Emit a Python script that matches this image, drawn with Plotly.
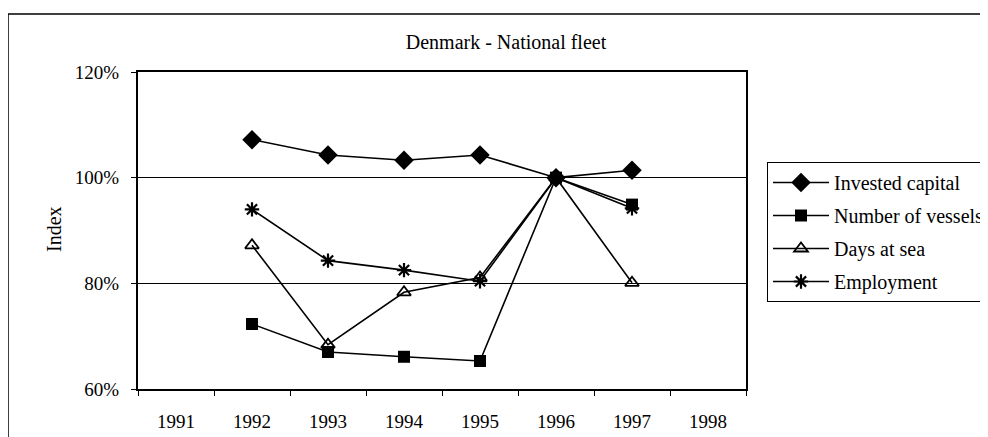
import plotly.graph_objects as go

years = ["1991", "1992", "1993", "1994", "1995", "1996", "1997", "1998"]
invested_capital = [None, 1.072, 1.043, 1.033, 1.043, 1.000, 1.014, None]
number_of_vessels = [None, 0.723, 0.670, 0.661, 0.653, 1.000, 0.949, None]
days_at_sea = [None, 0.872, 0.684, 0.783, 0.811, 1.000, 0.801, None]
employment = [None, 0.940, 0.843, 0.825, 0.804, 1.000, 0.942, None]
y_ticks = [0.6, 0.8, 1.0, 1.2]

FONT = "Liberation Serif"
series = [
    ("Invested capital", invested_capital, "diamond", 15, 0),
    ("Number of vessels", number_of_vessels, "square", 12, 0),
    ("Days at sea", days_at_sea, "triangle-up-open", 12, 1.8),
    ("Employment", employment, "asterisk-open", 12, 2.2),
]

fig = go.Figure()
for i, (name, vals, sym, size, lw) in enumerate(series):
    fig.add_trace(go.Scatter(
        x=years, y=vals, name=name, mode="lines+markers",
        line=dict(color="black", width=1.6),
        marker=dict(symbol=sym, size=size, color="black",
                    line=dict(color="black", width=lw)),
        legendgroup=f"g{i}", connectgaps=False,
    ))

# page offsets the plot div by the body margin
OFF = 8
W, H = 988, 437
L, R, T, B = 138 - OFF, 746 - OFF, 72 - OFF, 389 - OFF
ML, MR = 0, 0
pw = W - ML - MR
ph = B - T


def px(x_win):
    return (x_win - OFF - ML) / pw


def py(y_win):
    return (B - (y_win - OFF)) / ph


fig.update_layout(
    width=W, height=H,
    margin=dict(l=ML, r=MR, t=T, b=H - B, pad=0, autoexpand=False),
    paper_bgcolor="white", plot_bgcolor="white",
    font=dict(family=FONT, color="black", size=19),
    title=dict(text="Denmark - National fleet", x=(506 - OFF) / W, xanchor="center",
               y=1 - (42 - OFF) / H, yanchor="middle", font=dict(size=20, family=FONT)),
    showlegend=True,
    legend=dict(x=px(767), y=py(162), xanchor="left", yanchor="top",
                bordercolor="black", borderwidth=1, bgcolor="white",
                font=dict(size=20, family=FONT), tracegroupgap=4,
                itemwidth=56),
    xaxis=dict(type="category", categoryorder="array", categoryarray=years,
               domain=[L / pw, R / pw], automargin=False,
               range=[-0.5, 7.5], showgrid=False, showline=True, mirror=True,
               linecolor="black", linewidth=2, ticks="outside", tickson="boundaries",
               ticklen=5, tickcolor="black", tickwidth=1,
               tickfont=dict(size=19, family=FONT), ticklabelstandoff=14),
    yaxis=dict(range=[0.6, 1.2], tickvals=y_ticks, tickformat=".0%",
               automargin=False,
               showgrid=True, gridcolor="black", gridwidth=1,
               showline=True, mirror=True, linecolor="black", linewidth=2,
               ticks="outside", ticklen=5, tickcolor="black", tickwidth=1,
               tickfont=dict(size=19, family=FONT), ticklabelstandoff=8,
               zeroline=False),
    annotations=[dict(text="Index", textangle=-90, xref="paper", yref="paper",
                      x=px(54), y=py(229), xanchor="center",
                      yanchor="middle", showarrow=False,
                      font=dict(size=20, family=FONT))],
    shapes=[dict(type="rect", xref="paper", yref="paper",
                 x0=px(8), x1=px(1100),
                 y0=py(600), y1=py(14),
                 line=dict(color="black", width=1.5), layer="below")],
)

fig.write_html("out.html")
